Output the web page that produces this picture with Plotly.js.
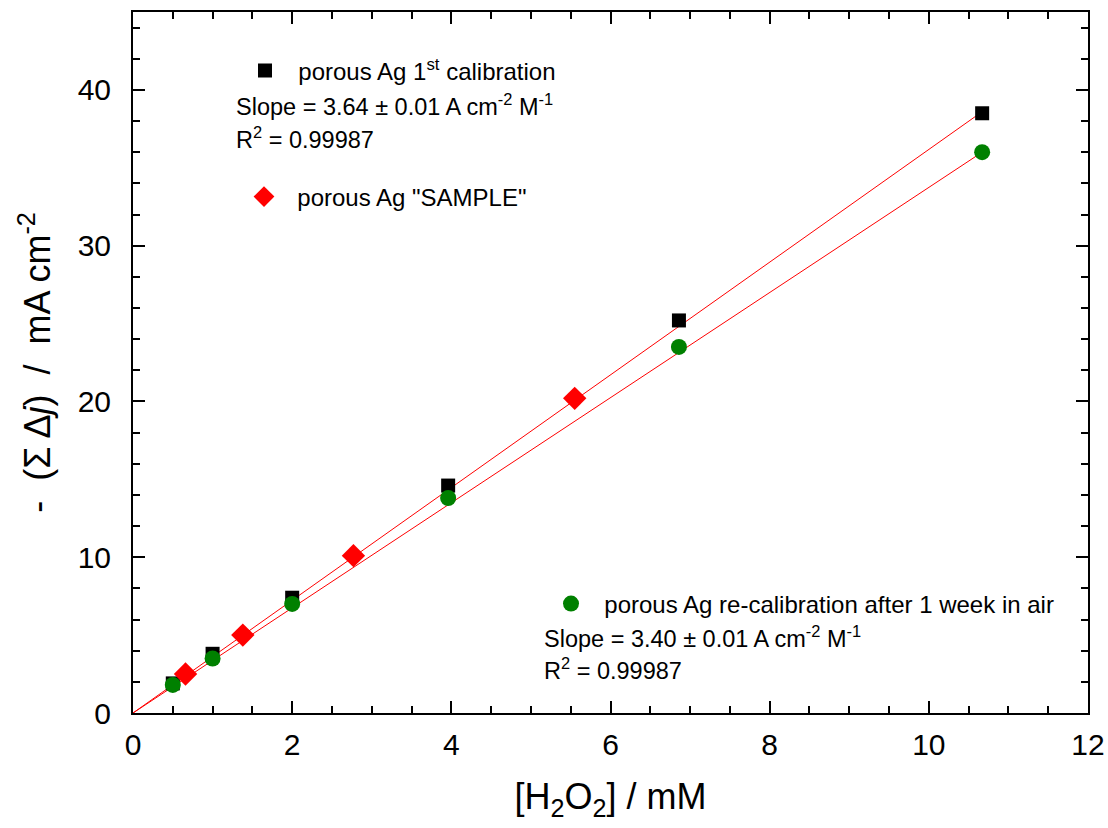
<!DOCTYPE html>
<html>
<head>
<meta charset="utf-8">
<script src="https://cdn.plot.ly/plotly-3.0.1.min.js"></script>
<style>html,body{margin:0;padding:0;background:#fff;}#chart{width:1108px;height:828px;}</style>
</head>
<body>
<div id="chart"></div>
<script>
// Data
const calibX = [0.5, 1.0, 2.0, 3.96, 6.86, 10.67];
const calibY = [1.9, 3.8, 7.4, 14.6, 25.2, 38.5];
const sampleX = [0.66, 1.38, 2.77, 5.55];
const sampleY = [2.5, 5.0, 10.1, 20.2];
const recalX = [0.5, 1.0, 2.0, 3.96, 6.86, 10.67];
const recalY = [1.8, 3.5, 7.0, 13.8, 23.5, 36.0];
const fitX = [0, 10.67];
const fitCalibY = [0, 38.6];
const fitRecalY = [0, 36.0];
const xTicks = [0, 2, 4, 6, 8, 10, 12];
const yTicks = [0, 10, 20, 30, 40];

const FONT = 'Liberation Sans, Arial, sans-serif';
const L = 133, R = 1088, T = 12, B = 713;
const px = v => (v - L) / (R - L);
const py = v => (B - v) / (B - T);
const GAP = '\u00A0\u00A0';

const traces = [
  {x: fitX, y: fitCalibY, mode: 'lines', line: {color: '#ff0000', width: 1}, showlegend: false, hoverinfo: 'skip'},
  {x: fitX, y: fitRecalY, mode: 'lines', line: {color: '#ff0000', width: 1}, showlegend: false, hoverinfo: 'skip'},
  {x: calibX, y: calibY, mode: 'markers', name: GAP + 'porous Ag 1<sup>st</sup> calibration',
   marker: {symbol: 'square', size: 14, color: '#000000'}, legend: 'legend'},
  {x: sampleX, y: sampleY, mode: 'markers', name: GAP + 'porous Ag "SAMPLE"',
   marker: {symbol: 'diamond', size: 18, color: '#ff0000'}, legend: 'legend2'},
  {x: recalX, y: recalY, mode: 'markers', name: GAP + 'porous Ag re-calibration after 1 week in air',
   marker: {symbol: 'circle', size: 16, color: '#008000'}, legend: 'legend3'}
];

const legBase = {bgcolor: 'rgba(0,0,0,0)', borderwidth: 0, font: {family: FONT, size: 24, color: '#000'},
  xanchor: 'left', yanchor: 'middle', itemwidth: 30};

const annBase = {xref: 'paper', yref: 'paper', xanchor: 'left', yanchor: 'middle', showarrow: false,
  font: {family: FONT, size: 23.5, color: '#000'}};

const layout = {
  width: 1108, height: 828,
  margin: {l: L, r: 1108 - R, t: T, b: 828 - B},
  paper_bgcolor: '#ffffff', plot_bgcolor: '#ffffff',
  font: {family: FONT, color: '#000'},
  xaxis: {
    range: [0, 12], tickvals: xTicks, ticktext: xTicks.map(String),
    ticks: 'inside', ticklen: 12, tickwidth: 2, tickcolor: '#000',
    minor: {dtick: 0.5, ticks: 'inside', ticklen: 7, tickwidth: 2, tickcolor: '#000'},
    showline: true, linecolor: '#000', linewidth: 2, mirror: 'ticks',
    showgrid: false, zeroline: false, ticklabelstandoff: 4,
    tickfont: {family: FONT, size: 30, color: '#000'},
    title: {text: '[H<sub>2</sub>O<sub>2</sub>] / mM', font: {family: FONT, size: 36, color: '#000'}, standoff: 24}
  },
  yaxis: {
    range: [0, 45], tickvals: yTicks, ticktext: yTicks.map(String),
    ticks: 'inside', ticklen: 12, tickwidth: 2, tickcolor: '#000',
    minor: {dtick: 2, ticks: 'inside', ticklen: 7, tickwidth: 2, tickcolor: '#000'},
    showline: true, linecolor: '#000', linewidth: 2, mirror: 'ticks',
    showgrid: false, zeroline: false, ticklabelstandoff: 14,
    tickfont: {family: FONT, size: 30, color: '#000'},
    title: {text: '-\u00A0 (\u03A3 \u0394<i>j</i>)\u00A0 /\u00A0 mA cm<sup>-2</sup>', font: {family: FONT, size: 36, color: '#000'}, standoff: 16}
  },
  showlegend: true,
  legend: Object.assign({}, legBase, {x: px(245), y: py(71)}),
  legend2: Object.assign({}, legBase, {x: px(244), y: py(197)}),
  legend3: Object.assign({}, legBase, {x: px(551), y: py(604)}),
  annotations: [
    Object.assign({}, annBase, {x: px(234), y: py(105), text: 'Slope = 3.64 \u00B1 0.01 A cm<sup>-2</sup> M<sup>-1</sup>'}),
    Object.assign({}, annBase, {x: px(234), y: py(138), text: 'R<sup>2</sup> = 0.99987'}),
    Object.assign({}, annBase, {x: px(542), y: py(637), text: 'Slope = 3.40 \u00B1 0.01 A cm<sup>-2</sup> M<sup>-1</sup>'}),
    Object.assign({}, annBase, {x: px(542), y: py(669), text: 'R<sup>2</sup> = 0.99987'})
  ]
};

Plotly.newPlot('chart', traces, layout, {displayModeBar: false, staticPlot: true});
</script>
</body>
</html>
